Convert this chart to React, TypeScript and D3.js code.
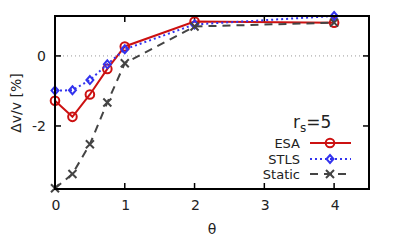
import * as d3 from "d3";

// theta values shared by all series
const thetas = [0, 0.25, 0.5, 0.75, 1, 2, 4];
const esa = [-1.28, -1.74, -1.1, -0.37, 0.27, 0.98, 0.95];
const stls = [-0.99, -0.98, -0.69, -0.24, 0.19, 0.9, 1.14];
const staticVals = [-3.78, -3.37, -2.52, -1.33, -0.21, 0.84, 0.95];

const xTicks = [0, 1, 2, 3, 4];
const yTicks = [-2, 0];
const seriesNames = ["ESA", "STLS", "Static"];

export default function App() {
  const width = 395;
  const height = 240;
  const left = 55;
  const right = 369;
  const top = 16;
  const bottom = 189;

  const x = d3.scaleLinear().domain([0, 4.5]).range([left, right]);
  const y = d3.scaleLinear().domain([-3.8, 1.14]).range([bottom, top]);

  const line = d3
    .line<number>()
    .x((_, i) => x(thetas[i]))
    .y((d) => y(d));

  const font = "'DejaVu Sans', sans-serif";
  const red = "#cc1111";
  const blue = "#3333ee";
  const gray = "#444444";

  const series = [
    { name: seriesNames[0], vals: esa, color: red, dash: "none", marker: "circle" },
    { name: seriesNames[1], vals: stls, color: blue, dash: "2,3", marker: "diamond" },
    { name: seriesNames[2], vals: staticVals, color: gray, dash: "8,6", marker: "cross" },
  ];

  const drawMarker = (kind: string, cx: number, cy: number, color: string, key: string) => {
    if (kind === "circle")
      return <circle key={key} cx={cx} cy={cy} r={4.3} fill="none" stroke={color} strokeWidth={2} />;
    if (kind === "diamond")
      return (
        <path
          key={key}
          d={`M${cx},${cy - 4}L${cx + 3.5},${cy}L${cx},${cy + 4}L${cx - 3.5},${cy}Z`}
          fill="none"
          stroke={color}
          strokeWidth={2}
        />
      );
    return (
      <path
        key={key}
        d={`M${cx - 4},${cy - 4}L${cx + 4},${cy + 4}M${cx - 4},${cy + 4}L${cx + 4},${cy - 4}`}
        stroke={color}
        strokeWidth={2}
      />
    );
  };

  const legendY = [143, 159, 174];

  return (
    <svg
      width={width}
      height={height}
      style={{ position: "absolute", left: 0, top: 0, background: "#fff" }}
      fontFamily={font}
    >
      {/* zero line */}
      <line x1={left} x2={right} y1={y(0)} y2={y(0)} stroke="#999" strokeWidth={1} strokeDasharray="1,3" />

      {/* ticks */}
      {xTicks.map((t) => (
        <g key={"xt" + t}>
          <line x1={x(t)} x2={x(t)} y1={bottom} y2={bottom - 6} stroke="#000" strokeWidth={1.5} />
          <line x1={x(t)} x2={x(t)} y1={top} y2={top + 6} stroke="#000" strokeWidth={1.5} />
          <text x={x(t) + 1} y={210} fontSize={14} textAnchor="middle" fill="#222">
            {t}
          </text>
        </g>
      ))}
      {yTicks.map((t) => (
        <g key={"yt" + t}>
          <line x1={left} x2={left + 6} y1={y(t)} y2={y(t)} stroke="#000" strokeWidth={1.5} />
          <line x1={right} x2={right - 6} y1={y(t)} y2={y(t)} stroke="#000" strokeWidth={1.5} />
          <text x={46} y={y(t) + 5} fontSize={14} textAnchor="end" fill="#222">
            {t === 0 ? "0" : "-" + Math.abs(t)}
          </text>
        </g>
      ))}

      {/* series */}
      {series.map((s) => (
        <g key={s.name}>
          <path d={line(s.vals) || ""} fill="none" stroke={s.color} strokeWidth={2} strokeDasharray={s.dash} />
          {s.vals.map((v, i) => drawMarker(s.marker, x(thetas[i]), y(v), s.color, s.name + i))}
        </g>
      ))}

      {/* frame */}
      <rect x={left} y={top} width={right - left} height={bottom - top} fill="none" stroke="#000" strokeWidth={2} />

      {/* axis labels */}
      <text x={212} y={234} fontSize={14} textAnchor="middle" fill="#222">
        θ
      </text>
      <text
        transform={`translate(21,103) rotate(-90)`}
        fontSize={14}
        textAnchor="middle"
        fill="#222"
      >
        Δv/v [%]
      </text>

      {/* legend */}
      <text x={293} y={128} fontSize={17} fill="#222">
        r<tspan fontSize={12} dy={4}>s</tspan>
        <tspan dy={-4}>=5</tspan>
      </text>
      {series.map((s, i) => (
        <g key={"lg" + s.name}>
          <text x={300} y={legendY[i] + 5} fontSize={13} textAnchor="end" fill="#222">
            {s.name}
          </text>
          <line x1={310} x2={351} y1={legendY[i]} y2={legendY[i]} stroke={s.color} strokeWidth={2} strokeDasharray={s.dash} />
          {drawMarker(s.marker, 330, legendY[i], s.color, "lm" + i)}
        </g>
      ))}
    </svg>
  );
}
